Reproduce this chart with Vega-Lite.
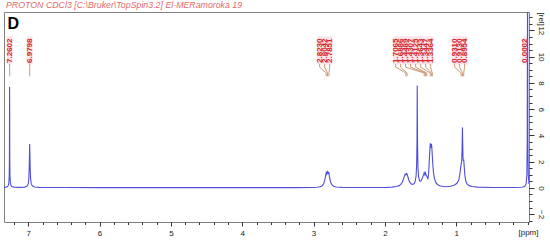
{
  "$schema": "https://vega.github.io/schema/vega-lite/v6.json",
  "width": 525,
  "height": 210,
  "autosize": "none",
  "padding": {"left": 4, "top": 12, "right": 21, "bottom": 18},
  "background": "white",
  "title": {"text": "PROTON CDCl3 [C:\\Bruker\\TopSpin3.2] El-MERamoroka 19", "anchor": "start", "frame": "group", "fontSize": 8.8, "fontStyle": "italic", "fontWeight": "normal", "font": "Liberation Sans", "color": "#e06a6a", "offset": 2, "dx": 2},
  "config": {
    "font": "Liberation Sans",
    "view": {"stroke": "#808080", "strokeWidth": 1},
    "axis": {"grid": false, "domain": false, "tickColor": "#333333", "labelColor": "#222222", "labelFontSize": 8, "titleFontSize": 8, "titleFontWeight": "normal", "titleColor": "#222222"}
  },
  "datasets": {
    "spectrum": [
      {"ppm": 7.34, "rel": 0.04}, {"ppm": 7.31, "rel": 0.06}, {"ppm": 7.29, "rel": 0.1}, {"ppm": 7.28, "rel": 0.18}, {"ppm": 7.272, "rel": 0.4}, {"ppm": 7.267, "rel": 0.9}, {"ppm": 7.264, "rel": 2.2}, {"ppm": 7.2615, "rel": 7.7}, {"ppm": 7.259, "rel": 2.2}, {"ppm": 7.256, "rel": 0.9}, {"ppm": 7.251, "rel": 0.4}, {"ppm": 7.243, "rel": 0.2}, {"ppm": 7.23, "rel": 0.11}, {"ppm": 7.2, "rel": 0.06}, {"ppm": 7.12, "rel": 0.04}, {"ppm": 7.05, "rel": 0.06}, {"ppm": 7.02, "rel": 0.12}, {"ppm": 7.0, "rel": 0.3}, {"ppm": 6.992, "rel": 0.7}, {"ppm": 6.986, "rel": 1.6}, {"ppm": 6.982, "rel": 2.8}, {"ppm": 6.98, "rel": 3.35}, {"ppm": 6.977, "rel": 2.6}, {"ppm": 6.973, "rel": 1.5}, {"ppm": 6.967, "rel": 0.7}, {"ppm": 6.958, "rel": 0.3}, {"ppm": 6.94, "rel": 0.14}, {"ppm": 6.91, "rel": 0.07}, {"ppm": 6.85, "rel": 0.04}, {"ppm": 6.5, "rel": 0.03}, {"ppm": 6.0, "rel": 0.02}, {"ppm": 5.0, "rel": 0.02}, {"ppm": 4.0, "rel": 0.02}, {"ppm": 3.3, "rel": 0.02}, {"ppm": 3.0, "rel": 0.03}, {"ppm": 2.95, "rel": 0.05}, {"ppm": 2.91, "rel": 0.09}, {"ppm": 2.88, "rel": 0.16}, {"ppm": 2.86, "rel": 0.3}, {"ppm": 2.845, "rel": 0.55}, {"ppm": 2.832, "rel": 0.9}, {"ppm": 2.823, "rel": 1.15}, {"ppm": 2.815, "rel": 1.05}, {"ppm": 2.804, "rel": 1.3}, {"ppm": 2.795, "rel": 1.1}, {"ppm": 2.786, "rel": 1.15}, {"ppm": 2.776, "rel": 0.8}, {"ppm": 2.762, "rel": 0.45}, {"ppm": 2.745, "rel": 0.25}, {"ppm": 2.72, "rel": 0.13}, {"ppm": 2.68, "rel": 0.07}, {"ppm": 2.6, "rel": 0.04}, {"ppm": 2.3, "rel": 0.03}, {"ppm": 2.0, "rel": 0.03}, {"ppm": 1.9, "rel": 0.06}, {"ppm": 1.84, "rel": 0.1}, {"ppm": 1.8, "rel": 0.17}, {"ppm": 1.775, "rel": 0.28}, {"ppm": 1.755, "rel": 0.45}, {"ppm": 1.74, "rel": 0.68}, {"ppm": 1.727, "rel": 0.9}, {"ppm": 1.716, "rel": 1.05}, {"ppm": 1.706, "rel": 1.0}, {"ppm": 1.697, "rel": 1.1}, {"ppm": 1.689, "rel": 1.05}, {"ppm": 1.678, "rel": 0.85}, {"ppm": 1.665, "rel": 0.6}, {"ppm": 1.65, "rel": 0.42}, {"ppm": 1.63, "rel": 0.3}, {"ppm": 1.61, "rel": 0.27}, {"ppm": 1.59, "rel": 0.32}, {"ppm": 1.575, "rel": 0.5}, {"ppm": 1.563, "rel": 0.9}, {"ppm": 1.555, "rel": 1.8}, {"ppm": 1.55, "rel": 3.6}, {"ppm": 1.547, "rel": 7.8}, {"ppm": 1.543, "rel": 3.6}, {"ppm": 1.537, "rel": 1.6}, {"ppm": 1.528, "rel": 0.85}, {"ppm": 1.515, "rel": 0.55}, {"ppm": 1.5, "rel": 0.5}, {"ppm": 1.487, "rel": 0.6}, {"ppm": 1.475, "rel": 0.75}, {"ppm": 1.462, "rel": 0.95}, {"ppm": 1.449, "rel": 1.15}, {"ppm": 1.44, "rel": 1.0}, {"ppm": 1.431, "rel": 1.15}, {"ppm": 1.422, "rel": 0.95}, {"ppm": 1.413, "rel": 0.9}, {"ppm": 1.404, "rel": 0.75}, {"ppm": 1.397, "rel": 0.7}, {"ppm": 1.39, "rel": 0.95}, {"ppm": 1.382, "rel": 1.6}, {"ppm": 1.373, "rel": 2.6}, {"ppm": 1.364, "rel": 3.4}, {"ppm": 1.356, "rel": 3.05}, {"ppm": 1.349, "rel": 3.35}, {"ppm": 1.344, "rel": 3.2}, {"ppm": 1.337, "rel": 2.6}, {"ppm": 1.33, "rel": 1.9}, {"ppm": 1.32, "rel": 1.2}, {"ppm": 1.305, "rel": 0.7}, {"ppm": 1.285, "rel": 0.4}, {"ppm": 1.26, "rel": 0.24}, {"ppm": 1.22, "rel": 0.14}, {"ppm": 1.15, "rel": 0.09}, {"ppm": 1.08, "rel": 0.12}, {"ppm": 1.03, "rel": 0.2}, {"ppm": 0.99, "rel": 0.35}, {"ppm": 0.965, "rel": 0.6}, {"ppm": 0.95, "rel": 1.0}, {"ppm": 0.94, "rel": 1.45}, {"ppm": 0.931, "rel": 1.85}, {"ppm": 0.925, "rel": 1.9}, {"ppm": 0.919, "rel": 2.8}, {"ppm": 0.915, "rel": 4.0}, {"ppm": 0.913, "rel": 4.6}, {"ppm": 0.91, "rel": 3.6}, {"ppm": 0.905, "rel": 2.3}, {"ppm": 0.9, "rel": 2.05}, {"ppm": 0.895, "rel": 2.15}, {"ppm": 0.888, "rel": 1.6}, {"ppm": 0.878, "rel": 0.9}, {"ppm": 0.865, "rel": 0.5}, {"ppm": 0.85, "rel": 0.3}, {"ppm": 0.82, "rel": 0.17}, {"ppm": 0.78, "rel": 0.1}, {"ppm": 0.7, "rel": 0.06}, {"ppm": 0.5, "rel": 0.03}, {"ppm": 0.2, "rel": 0.03}, {"ppm": 0.08, "rel": 0.05}, {"ppm": 0.04, "rel": 0.1}, {"ppm": 0.02, "rel": 0.3}, {"ppm": 0.01, "rel": 1.0}, {"ppm": 0.005, "rel": 3.5}, {"ppm": 0.0002, "rel": 16}, {"ppm": -0.005, "rel": 3.5}, {"ppm": -0.01, "rel": 1.0}, {"ppm": -0.02, "rel": 0.3}
    ],
    "labels": [
      {"ppm": 7.2602, "lp": 7.262}, {"ppm": 6.9798, "lp": 6.98},
      {"ppm": 2.8230, "lp": 2.915}, {"ppm": 2.8042, "lp": 2.845}, {"ppm": 2.7851, "lp": 2.775},
      {"ppm": 1.7065, "lp": 1.85}, {"ppm": 1.6886, "lp": 1.78}, {"ppm": 1.4489, "lp": 1.71}, {"ppm": 1.4307, "lp": 1.64}, {"ppm": 1.4125, "lp": 1.57}, {"ppm": 1.3643, "lp": 1.499}, {"ppm": 1.3447, "lp": 1.429}, {"ppm": 1.3364, "lp": 1.359},
      {"ppm": 0.9310, "lp": 1.023}, {"ppm": 0.9130, "lp": 0.953}, {"ppm": 0.8954, "lp": 0.883},
      {"ppm": 0.0002, "lp": 0.035}
    ]
  },
  "resolve": {"axis": {"x": "independent", "y": "independent"}},
  "layer": [
    {
      "data": {"name": "labels"},
      "mark": {"type": "rect", "color": "#fce4ec"},
      "encoding": {
        "x": {"field": "lp", "type": "quantitative", "scale": {"domain": [-0.02, 7.34], "reverse": true, "nice": false, "zero": false}, "axis": {"orient": "bottom", "values": [0,0.2,0.4,0.6,0.8,1,1.2,1.4,1.6,1.8,2,2.2,2.4,2.6,2.8,3,3.2,3.4,3.6,3.8,4,4.2,4.4,4.6,4.8,5,5.2,5.4,5.6,5.8,6,6.2,6.4,6.6,6.8,7,7.2], "labels": false, "tickSize": 2.5, "title": null}},
        "x2": {"field": "lp2"},
        "y": {"datum": 9.4, "type": "quantitative", "scale": {"domain": [-2.6, 13.4], "nice": false, "zero": false}, "axis": {"orient": "right", "values": [-2.5,-2,-1.5,-1,-0.5,0,0.5,1,1.5,2,2.5,3,3.5,4,4.5,5,5.5,6,6.5,7,7.5,8,8.5,9,9.5,10,10.5,11,11.5,12,12.5,13], "labels": false, "tickSize": 3, "title": null}},
        "y2": {"datum": 11.55}
      },
      "transform": [{"calculate": "datum.lp - 0.04", "as": "lp2"}, {"calculate": "datum.lp + 0.04", "as": "lp"}]
    },
    {
      "data": {"name": "spectrum"},
      "mark": {"type": "line", "color": "#4f4fdc", "strokeWidth": 1.1, "clip": true, "interpolate": "linear"},
      "encoding": {
        "x": {"field": "ppm", "type": "quantitative", "sort": null, "scale": {"domain": [-0.02, 7.34], "reverse": true, "nice": false, "zero": false}, "axis": {"orient": "bottom", "values": [1,2,3,4,5,6,7], "format": "d", "tickSize": 4, "labelPadding": 3, "labelFlush": false, "title": "[ppm]", "titleAnchor": "end", "titleAlign": "right", "titleX": 534, "titleY": 10, "titleBaseline": "middle"}},
        "y": {"field": "rel", "type": "quantitative", "scale": {"domain": [-2.6, 13.4], "nice": false, "zero": false}, "axis": {"orient": "right", "values": [-2,0,2,4,6,8,10,12], "tickSize": 5, "labelAngle": 90, "labelAlign": "center", "labelBaseline": "middle", "labelPadding": 6, "labelFlush": false, "title": "[rel]", "titleAngle": 90, "titleAlign": "left", "titleBaseline": "middle", "titleX": 11, "titleY": 0}},
        "order": {"field": "ppm", "sort": "descending"}
      }
    },
    {
      "data": {"name": "labels"},
      "transform": [{"filter": "datum.ppm > 0.01"}],
      "mark": {"type": "rule", "color": "#c89068", "strokeWidth": 0.9},
      "encoding": {
        "x": {"field": "lp", "type": "quantitative", "axis": null, "scale": {"domain": [-0.02, 7.34], "reverse": true, "nice": false, "zero": false}},
        "y": {"datum": 9.45, "type": "quantitative", "axis": null, "scale": {"domain": [-2.6, 13.4], "nice": false, "zero": false}},
        "y2": {"datum": 9.2}
      }
    },
    {
      "data": {"name": "labels"},
      "transform": [{"filter": "datum.ppm > 0.01"}],
      "mark": {"type": "rule", "color": "#c89068", "strokeWidth": 0.9},
      "encoding": {
        "x": {"field": "lp", "type": "quantitative", "axis": null, "scale": {"domain": [-0.02, 7.34], "reverse": true, "nice": false, "zero": false}},
        "x2": {"field": "ppm"},
        "y": {"datum": 9.2, "type": "quantitative", "axis": null, "scale": {"domain": [-2.6, 13.4], "nice": false, "zero": false}},
        "y2": {"datum": 8.75}
      }
    },
    {
      "data": {"name": "labels"},
      "transform": [{"filter": "datum.ppm > 0.01"}],
      "mark": {"type": "rule", "color": "#c89068", "strokeWidth": 0.9},
      "encoding": {
        "x": {"field": "ppm", "type": "quantitative", "axis": null, "scale": {"domain": [-0.02, 7.34], "reverse": true, "nice": false, "zero": false}},
        "y": {"datum": 8.75, "type": "quantitative", "axis": null, "scale": {"domain": [-2.6, 13.4], "nice": false, "zero": false}},
        "y2": {"datum": 8.5}
      }
    },
    {
      "data": {"name": "labels"},
      "mark": {"type": "text", "angle": 270, "align": "center", "baseline": "middle", "fontSize": 8, "fontWeight": "bold", "color": "#d42828"},
      "encoding": {
        "x": {"field": "lp", "type": "quantitative", "axis": null, "scale": {"domain": [-0.02, 7.34], "reverse": true, "nice": false, "zero": false}},
        "y": {"datum": 10.45, "type": "quantitative", "axis": null, "scale": {"domain": [-2.6, 13.4], "nice": false, "zero": false}},
        "text": {"field": "ppm", "type": "quantitative", "format": ".4f"}
      }
    },
    {
      "data": {"values": [{"panel": "D"}]},
      "mark": {"type": "text", "align": "left", "baseline": "middle", "fontSize": 16, "fontWeight": "bold", "color": "#000000", "font": "Liberation Sans"},
      "encoding": {
        "x": {"datum": 7.29, "type": "quantitative", "axis": null, "scale": {"domain": [-0.02, 7.34], "reverse": true, "nice": false, "zero": false}},
        "y": {"datum": 12.45, "type": "quantitative", "axis": null, "scale": {"domain": [-2.6, 13.4], "nice": false, "zero": false}},
        "text": {"field": "panel"}
      }
    }
  ]
}
